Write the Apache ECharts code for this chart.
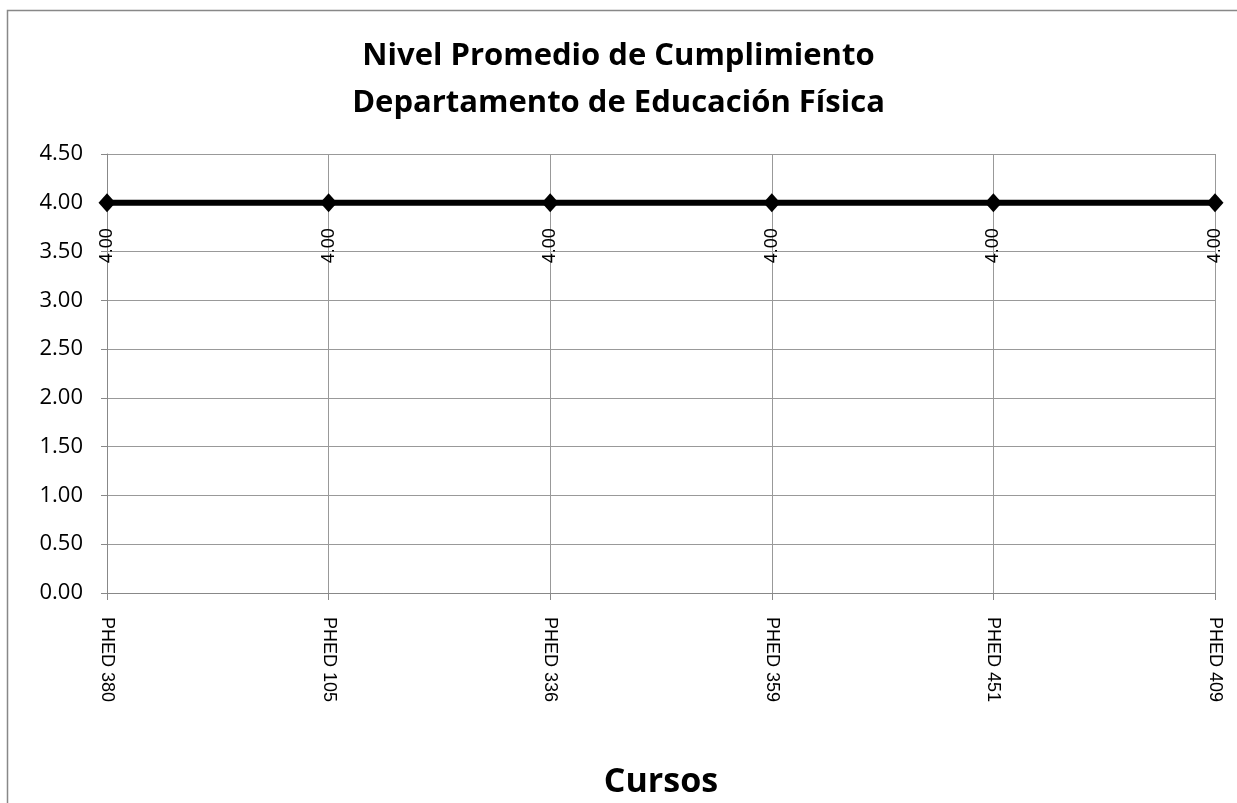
<!DOCTYPE html>
<html>
<head>
<meta charset="utf-8">
<script src="https://cdn.jsdelivr.net/npm/echarts@6/dist/echarts.min.js"></script>
<style>
  html, body { margin: 0; padding: 0; background: #fff; }
  #chart { width: 1237px; height: 803px; }
</style>
</head>
<body>
<div id="chart"></div>
<script>
// datos del grafico
var cursos = ["PHED 380", "PHED 105", "PHED 336", "PHED 359", "PHED 451", "PHED 409"];
var promedio = [4.00, 4.00, 4.00, 4.00, 4.00, 4.00];
var yMin = 0, yMax = 4.5, yPaso = 0.5;

var myChart = echarts.init(document.getElementById("chart"), null, { renderer: "canvas" });
var option = {
  backgroundColor: "#fff",
  animation: false,
  title: {
    text: "Nivel Promedio de Cumplimiento\nDepartamento de Educación Física",
    left: "center",
    top: 28,
    textStyle: {
      fontFamily: "Open Sans",
      fontWeight: "bold",
      fontSize: 31,
      lineHeight: 47,
      color: "#000",
    },
  },
  graphic: [
    {
      type: "rect",
      shape: { x: 7.5, y: 10.5, width: 1240, height: 800 },
      style: { fill: "none", stroke: "#888", lineWidth: 1.5 },
      silent: true,
    },
  ],
  grid: { left: 107, right: 22, top: 154, bottom: 210, outerBoundsMode: "none" },
  xAxis: {
    type: "category",
    data: cursos,
    boundaryGap: false,
    name: "Cursos",
    nameLocation: "middle",
    nameGap: 172,
    nameTextStyle: { fontFamily: "Open Sans", fontWeight: "bold", fontSize: 34, color: "#000" },
    axisLine: { lineStyle: { color: "#888", width: 1 } },
    axisTick: { show: true, length: 7, alignWithLabel: true, lineStyle: { color: "#888" } },
    splitLine: { show: true, lineStyle: { color: "#999", width: 1 } },
    axisLabel: {
      rotate: -90,
      margin: 24,
      fontFamily: "Liberation Sans",
      fontSize: 18,
      color: "#000",
      interval: 0,
    },
  },
  yAxis: {
    type: "value",
    min: yMin,
    max: yMax,
    interval: yPaso,
    axisLine: { show: true, lineStyle: { color: "#888", width: 1 } },
    axisTick: { show: true, length: 6, lineStyle: { color: "#888" } },
    splitLine: { show: true, lineStyle: { color: "#999", width: 1 } },
    axisLabel: {
      margin: 24,
      fontFamily: "Open Sans",
      fontSize: 22,
      color: "#000",
      formatter: function (v) { return v.toFixed(2); },
    },
  },
  series: [
    {
      name: "Promedio",
      type: "line",
      data: promedio,
      symbol: "diamond",
      symbolSize: [17, 19],
      lineStyle: { color: "#000", width: 6 },
      itemStyle: { color: "#000" },
      label: {
        show: true,
        position: "bottom",
        distance: 16,
        rotate: 90,
        align: "right",
        verticalAlign: "middle",
        fontFamily: "Liberation Sans",
        fontSize: 18,
        color: "#000",
        formatter: function (p) { return p.value.toFixed(2); },
      },
    },
  ],
};
myChart.setOption(option);
window.addEventListener("resize", myChart.resize);
</script>
</body>
</html>
